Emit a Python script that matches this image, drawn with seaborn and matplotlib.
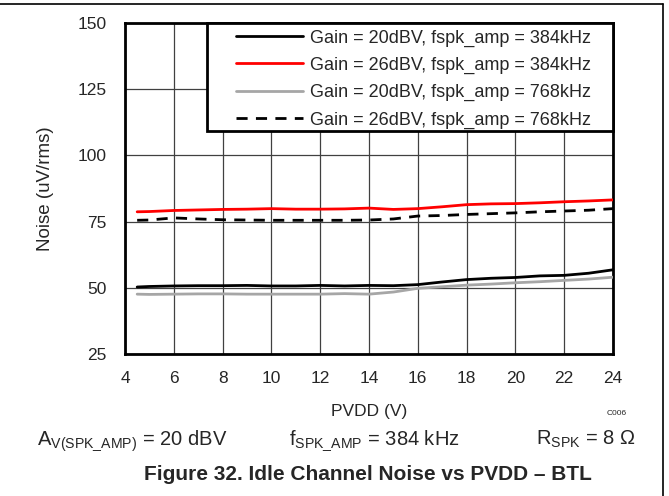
import numpy as np
import pandas as pd
import matplotlib
matplotlib.use("Agg")
import matplotlib.pyplot as plt
from matplotlib.lines import Line2D
from matplotlib.patches import Rectangle
import seaborn as sns

# Datos
pvdd = [4.5, 5, 6, 7, 8, 9, 10, 11, 12, 13, 14, 15, 16, 17, 18, 19, 20, 21, 22, 23, 24]
g20_384 = [50.3, 50.5, 50.7, 50.8, 50.8, 50.9, 50.7, 50.7, 50.9, 50.7, 50.9, 50.8, 51.2, 52.2, 53.1, 53.6, 53.9, 54.5, 54.7, 55.5, 56.8]
g26_384 = [78.7, 78.8, 79.2, 79.4, 79.6, 79.7, 79.9, 79.7, 79.7, 79.8, 80.1, 79.6, 79.9, 80.6, 81.4, 81.7, 81.8, 82.1, 82.5, 82.8, 83.2]
g20_768 = [47.6, 47.5, 47.6, 47.7, 47.7, 47.6, 47.6, 47.6, 47.6, 47.8, 47.6, 48.4, 49.8, 50.4, 51.0, 51.4, 51.9, 52.3, 52.8, 53.3, 54.0]
g26_768 = [75.5, 75.6, 76.4, 76.0, 75.7, 75.6, 75.5, 75.5, 75.5, 75.5, 75.6, 76.0, 77.1, 77.3, 77.7, 78.0, 78.3, 78.7, 79.0, 79.3, 79.9]

etiquetas = [
    "Gain = 20dBV, fspk_amp = 384kHz",
    "Gain = 26dBV, fspk_amp = 384kHz",
    "Gain = 20dBV, fspk_amp = 768kHz",
    "Gain = 26dBV, fspk_amp = 768kHz",
]
colores = ["black", "#ff0000", "#a6a6a6", "black"]
estilos = ["", "", "", (4, 3)]

# Formato largo
df = pd.concat([
    pd.DataFrame({"PVDD": pvdd, "Noise": vals, "Serie": lab})
    for vals, lab in zip([g20_384, g26_384, g20_768, g26_768], etiquetas)
])

sns.set_style("white")
plt.rcParams["font.family"] = ["Liberation Sans", "DejaVu Sans"]
plt.rcParams["mathtext.fontset"] = "custom"
plt.rcParams["mathtext.rm"] = "Liberation Sans"
plt.rcParams["mathtext.it"] = "Liberation Sans"

fig = plt.figure(figsize=(6.69, 4.96), dpi=100)
ax = fig.add_axes([0.1868, 0.2863, 0.7295, 0.6673])

sns.lineplot(data=df, x="PVDD", y="Noise", hue="Serie", style="Serie",
             palette=dict(zip(etiquetas, colores)),
             dashes=dict(zip(etiquetas, estilos)),
             linewidth=2, ax=ax, zorder=3)

ax.set_xlim(4, 24)
ax.set_ylim(25, 150)
ax.set_xticks(range(4, 25, 2))
ax.set_yticks([25, 50, 75, 100, 125, 150])
ax.grid(True, color="#404040", linewidth=0.9)
ax.tick_params(axis="both", labelsize=12.5, length=0)
ax.tick_params(axis="y", pad=13)
ax.tick_params(axis="x", pad=12)
for s in ax.spines.values():
    s.set_linewidth(2)
    s.set_color("black")
ax.set_xlabel("PVDD (V)", fontsize=12.5, labelpad=13)
ax.set_ylabel("Noise (uV/rms)", fontsize=13.5, labelpad=17)

# Caja de la leyenda (mas ancha que la que dibuja matplotlib)
ax.add_patch(Rectangle((0.168, 0.674), 0.832, 0.326, transform=ax.transAxes,
                       facecolor="white", edgecolor="black", linewidth=2,
                       zorder=4, clip_on=False))
leg = ax.legend(loc="upper right", bbox_to_anchor=(0.968, 1.0), fontsize=13,
                frameon=False, borderaxespad=0, handlelength=3.7,
                handletextpad=0.4, labelspacing=0.57, borderpad=0.35)
for h in leg.get_lines():
    h.set_linewidth(2)

fig.text(0.907, 0.163, "C006", fontsize=6)
fig.text(0.055, 0.104, r"$\mathregular{A_{V(SPK\_AMP)}}$ = 20 dBV", fontsize=14.5)
fig.text(0.432, 0.104, r"$\mathregular{f_{SPK\_AMP}}$ = 384 kHz", fontsize=14.5)
fig.text(0.801, 0.104, r"$\mathregular{R_{SPK}}$ = 8 Ω", fontsize=14.5)
fig.text(0.55, 0.032, "Figure 32. Idle Channel Noise vs PVDD – BTL",
         fontsize=15, fontweight="bold", ha="center")

# Marco de la pagina
fig.add_artist(Line2D([0, 0.991], [0.992, 0.992], color="black", linewidth=1.2))
fig.add_artist(Line2D([0.991, 0.991], [0, 0.992], color="black", linewidth=1.2))

fig.savefig("out.png", dpi=100)
